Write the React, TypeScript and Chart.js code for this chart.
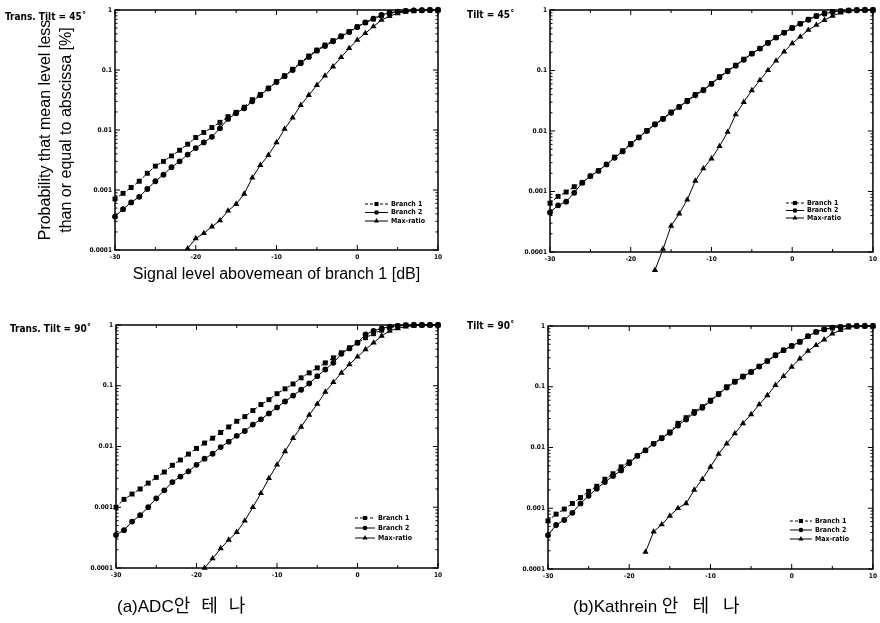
import React, { useEffect, useRef } from "react";
import { Chart, registerables } from "chart.js";
Chart.register(...registerables);

// ---- data ----
const dB = [-30, -29, -28, -27, -26, -25, -24, -23, -22, -21, -20, -19, -18, -17, -16, -15, -14, -13, -12, -11, -10, -9, -8, -7, -6, -5, -4, -3, -2, -1, 0, 1, 2, 3, 4, 5, 6, 7, 8, 9, 10];
const seriesNames = ["Branch 1", "Branch 2", "Max-ratio"];
const xTickValues = [-30, -20, -10, 0, 10];
const xTickLabels = ["-30", "-20", "-10", "0", "10"];
const yTickLabels = ["0.0001", "0.001", "0.01", "0.1", "1"];
const xTitle = "Signal level abovemean of branch 1 [dB]";
const yTitle = ["Probability that mean level less", "than or equal to abscissa [%]"];

// (a) ADC, Trans. Tilt = 45
const adc45Branch1 = [0.00071, 0.00088, 0.0011, 0.0014, 0.0019, 0.0025, 0.003, 0.0037, 0.0046, 0.0058, 0.0075, 0.0091, 0.011, 0.0134, 0.0167, 0.0197, 0.024, 0.032, 0.039, 0.05, 0.064, 0.08, 0.103, 0.134, 0.171, 0.215, 0.261, 0.308, 0.369, 0.436, 0.527, 0.615, 0.708, 0.805, 0.88, 0.926, 0.96, 0.975, 0.987, 0.995, 1];
const adc45Branch2 = [0.00036, 0.00048, 0.00062, 0.00077, 0.00104, 0.0014, 0.0018, 0.0024, 0.003, 0.0039, 0.005, 0.0062, 0.0077, 0.0107, 0.0153, 0.019, 0.023, 0.03, 0.038, 0.049, 0.063, 0.079, 0.1, 0.13, 0.165, 0.21, 0.25, 0.3, 0.36, 0.43, 0.52, 0.62, 0.72, 0.83, 0.9, 0.94, 0.97, 0.985, 0.99, 1, 1];
const adc45MaxRatio = [null, null, null, null, null, null, null, null, null, 0.000106, 0.000156, 0.00019, 0.000245, 0.00031, 0.00045, 0.00058, 0.00086, 0.0016, 0.0026, 0.0038, 0.0062, 0.0104, 0.016, 0.026, 0.038, 0.056, 0.08, 0.114, 0.163, 0.23, 0.316, 0.41, 0.53, 0.68, 0.79, 0.88, 0.94, 0.97, 0.99, 1, 1];

// (b) Kathrein, Tilt = 45
const kat45Branch1 = [0.00064, 0.00083, 0.00098, 0.0012, 0.0014, 0.0018, 0.0022, 0.0028, 0.0037, 0.0047, 0.0062, 0.0079, 0.0102, 0.013, 0.016, 0.0206, 0.025, 0.032, 0.04, 0.048, 0.061, 0.079, 0.099, 0.122, 0.154, 0.191, 0.232, 0.288, 0.352, 0.426, 0.51, 0.6, 0.7, 0.8, 0.88, 0.94, 0.96, 0.99, 1, 1, 1];
const kat45Branch2 = [0.00045, 0.00059, 0.00068, 0.00095, 0.0014, 0.0018, 0.0022, 0.0028, 0.0036, 0.0046, 0.006, 0.0078, 0.01, 0.0128, 0.0158, 0.02, 0.025, 0.031, 0.039, 0.047, 0.06, 0.077, 0.097, 0.12, 0.15, 0.19, 0.23, 0.285, 0.35, 0.42, 0.5, 0.59, 0.69, 0.79, 0.87, 0.93, 0.96, 0.98, 0.99, 1, 1];
const kat45MaxRatio = [null, null, null, null, null, null, null, null, null, null, null, null, null, 0.00005, 0.000112, 0.00027, 0.00043, 0.00073, 0.0015, 0.0024, 0.0035, 0.0056, 0.0096, 0.0187, 0.03, 0.047, 0.069, 0.101, 0.145, 0.204, 0.28, 0.361, 0.466, 0.564, 0.68, 0.8, 0.9, 0.96, 0.99, 1, 1];

// (a) ADC, Trans. Tilt = 90
const adc90Branch1 = [0.001, 0.00135, 0.00165, 0.002, 0.0025, 0.0031, 0.0038, 0.0049, 0.006, 0.0075, 0.0093, 0.0114, 0.0137, 0.017, 0.021, 0.026, 0.031, 0.039, 0.049, 0.059, 0.074, 0.089, 0.107, 0.135, 0.163, 0.197, 0.238, 0.288, 0.349, 0.422, 0.51, 0.617, 0.719, 0.82, 0.9, 0.96, 0.99, 1, 1, 1, 1];
const adc90Branch2 = [0.00035, 0.00042, 0.00058, 0.00074, 0.001, 0.0014, 0.0019, 0.0026, 0.0032, 0.0039, 0.005, 0.0063, 0.0076, 0.0098, 0.012, 0.015, 0.018, 0.023, 0.028, 0.035, 0.044, 0.055, 0.069, 0.086, 0.109, 0.144, 0.185, 0.238, 0.336, 0.411, 0.51, 0.7, 0.8, 0.88, 0.94, 0.97, 0.99, 1, 1, 1, 1];
const adc90MaxRatio = [null, null, null, null, null, null, null, null, null, null, null, 0.0001, 0.000143, 0.00021, 0.00029, 0.00039, 0.0006, 0.001, 0.0017, 0.003, 0.005, 0.0083, 0.0137, 0.021, 0.033, 0.05, 0.079, 0.114, 0.163, 0.224, 0.3, 0.396, 0.51, 0.66, 0.8, 0.88, 0.94, 0.97, 0.99, 1, 1];

// (b) Kathrein, Tilt = 90
const kat90Branch1 = [0.00062, 0.0008, 0.00097, 0.0012, 0.0015, 0.0019, 0.0023, 0.003, 0.0037, 0.0048, 0.0058, 0.0073, 0.009, 0.0116, 0.0144, 0.018, 0.025, 0.031, 0.039, 0.047, 0.06, 0.077, 0.1, 0.123, 0.149, 0.175, 0.217, 0.266, 0.33, 0.398, 0.469, 0.546, 0.676, 0.797, 0.88, 0.94, 0.96, 0.99, 1, 1, 1];
const kat90Branch2 = [0.00036, 0.00053, 0.00064, 0.00084, 0.0012, 0.0016, 0.0021, 0.0027, 0.0034, 0.0042, 0.0055, 0.0073, 0.009, 0.0115, 0.0142, 0.0175, 0.023, 0.029, 0.037, 0.045, 0.058, 0.075, 0.097, 0.12, 0.146, 0.175, 0.215, 0.265, 0.33, 0.4, 0.47, 0.55, 0.68, 0.8, 0.88, 0.94, 0.97, 0.99, 1, 1, 1];
const kat90MaxRatio = [null, null, null, null, null, null, null, null, null, null, null, null, 0.00019, 0.00041, 0.00054, 0.00075, 0.001, 0.0012, 0.002, 0.003, 0.0048, 0.0078, 0.0116, 0.017, 0.025, 0.035, 0.051, 0.072, 0.106, 0.149, 0.212, 0.29, 0.388, 0.481, 0.596, 0.748, 0.85, 0.94, 0.99, 1, 1];

const NARROW = '"Liberation Sans Narrow", "DejaVu Sans Condensed", "Liberation Sans", sans-serif';
const SANS = '"Liberation Sans", Arial, "Noto Sans CJK KR", sans-serif';

function isDecade(v: number) {
  const l = Math.log10(v);
  return Math.abs(l - Math.round(l)) < 1e-6;
}
function isIntMantissa(v: number) {
  const e = Math.floor(Math.log10(v) + 1e-9);
  const m = v / Math.pow(10, e);
  return Math.abs(m - Math.round(m)) < 1e-6;
}

function marker(ctx: CanvasRenderingContext2D, style: string, x: number, y: number, r: number) {
  ctx.beginPath();
  if (style === "rect") {
    const s = r * Math.SQRT1_2;
    ctx.rect(x - s, y - s, 2 * s, 2 * s);
  } else if (style === "triangle") {
    let rad = 0;
    ctx.moveTo(x + Math.sin(rad) * r, y - Math.cos(rad) * r);
    rad += (2 * Math.PI) / 3;
    ctx.lineTo(x + Math.sin(rad) * r, y - Math.cos(rad) * r);
    rad += (2 * Math.PI) / 3;
    ctx.lineTo(x + Math.sin(rad) * r, y - Math.cos(rad) * r);
    ctx.closePath();
  } else {
    ctx.arc(x, y, r, 0, Math.PI * 2);
  }
  ctx.fill();
}

const frameTicksPlugin = {
  id: "frameTicks",
  afterDatasetsDraw(chart: any) {
    // points lying outside the plot area are skipped by the library: draw them here
    const { ctx, chartArea: a } = chart;
    ctx.save();
    ctx.fillStyle = "#000";
    chart.data.datasets.forEach((ds: any, di: number) => {
      const meta = chart.getDatasetMeta(di);
      meta.data.forEach((el: any) => {
        if (el.skip) return;
        if (el.y > a.bottom + 2 || el.y < a.top - 2) marker(ctx, ds.pointStyle, el.x, el.y, ds.pointRadius);
      });
    });
    ctx.restore();
  },
  afterDraw(chart: any, _args: any, opts: any) {
    const { ctx, chartArea: a, scales } = chart;
    ctx.save();
    ctx.strokeStyle = "#000";
    ctx.lineWidth = 1.5;
    ctx.strokeRect(a.left, a.top, a.right - a.left, a.bottom - a.top);
    ctx.lineWidth = 1;
    const ys = scales.y;
    ys.ticks.forEach((t: any) => {
      if (!isIntMantissa(t.value)) return;
      const py = ys.getPixelForValue(t.value);
      const len = isDecade(t.value) ? 5 : 2.5;
      ctx.beginPath();
      ctx.moveTo(a.left, py); ctx.lineTo(a.left + len, py);
      ctx.moveTo(a.right, py); ctx.lineTo(a.right - len, py);
      ctx.stroke();
    });
    const xs = scales.x;
    const vals = xs.ticks.map((t: any) => t.value);
    vals.forEach((v: number, i: number) => {
      const px = xs.getPixelForValue(v);
      ctx.beginPath();
      ctx.moveTo(px, a.bottom); ctx.lineTo(px, a.bottom - 5);
      ctx.moveTo(px, a.top); ctx.lineTo(px, a.top + 5);
      if (i < vals.length - 1) {
        const mx = xs.getPixelForValue((v + vals[i + 1]) / 2);
        ctx.moveTo(mx, a.bottom); ctx.lineTo(mx, a.bottom - 3);
        ctx.moveTo(mx, a.top); ctx.lineTo(mx, a.top + 3);
      }
      ctx.stroke();
    });

    // legend, bottom-right inside the plot
    const lg = opts.legend;
    chart.data.datasets.forEach((ds: any, i: number) => {
      const y = a.bottom - lg.fromBottom + i * lg.spacing;
      const x0 = a.right - lg.sampleStart;
      const x1 = a.right - lg.sampleEnd;
      ctx.beginPath();
      ctx.setLineDash(ds.borderDash || []);
      ctx.lineWidth = 1;
      ctx.moveTo(x0, y); ctx.lineTo(x1, y);
      ctx.stroke();
      ctx.setLineDash([]);
      ctx.fillStyle = "#000";
      marker(ctx, ds.pointStyle, (x0 + x1) / 2, y, ds.pointStyle === "circle" ? 2.3 : 2.9);
      ctx.font = `bold 7px ${NARROW}`;
      ctx.textBaseline = "middle";
      ctx.textAlign = "left";
      ctx.fillText(ds.label, a.right - lg.textStart, y);
    });
    ctx.restore();
  },
};

type Box = { left: number; top: number; width: number; height: number };
type Area = { left: number; top: number; right: number; bottom: number };
type Legend = { sampleStart: number; sampleEnd: number; textStart: number; fromBottom: number; spacing: number };

function Panel(props: {
  b1: (number | null)[]; b2: (number | null)[]; mr: (number | null)[];
  box: Box; area: Area; titles: boolean; legend: Legend;
}) {
  const { b1, b2, mr, box, area, titles, legend } = props;
  const ref = useRef<HTMLCanvasElement>(null);
  useEffect(() => {
    const mk = (vals: (number | null)[]) => dB.map((x, i) => ({ x, y: vals[i] }));
    const tickFont = { family: NARROW, size: 6.5, weight: "bold" as const };
    const chart = new Chart(ref.current as HTMLCanvasElement, {
      type: "line",
      data: {
        datasets: [
          { label: seriesNames[0], data: mk(b1) as any, borderColor: "#000", backgroundColor: "#000", borderWidth: 1, borderDash: [3, 2], pointStyle: "rect", pointRadius: 3.5, pointBorderWidth: 0, clip: false as any, spanGaps: false },
          { label: seriesNames[1], data: mk(b2) as any, borderColor: "#000", backgroundColor: "#000", borderWidth: 1, pointStyle: "circle", pointRadius: 2.9, pointBorderWidth: 0, clip: false as any, spanGaps: false },
          { label: seriesNames[2], data: mk(mr) as any, borderColor: "#000", backgroundColor: "#000", borderWidth: 1, pointStyle: "triangle", pointRadius: 3.6, pointBorderWidth: 0, clip: false as any, spanGaps: false },
        ],
      },
      options: {
        animation: false,
        responsive: false,
        maintainAspectRatio: false,
        layout: { padding: { left: 0, top: area.top - box.top, right: box.left + box.width - area.right, bottom: 0 } },
        plugins: {
          legend: { display: false },
          tooltip: { enabled: false },
          frameTicks: { legend } as any,
        } as any,
        scales: {
          x: {
            type: "linear",
            min: -30,
            max: 10,
            grid: { display: false, drawTicks: false },
            border: { display: false },
            ticks: {
              stepSize: 10,
              autoSkip: false,
              maxRotation: 0,
              padding: 3,
              color: "#000",
              font: tickFont,
              callback: (v: any) => {
                const i = xTickValues.indexOf(Number(v));
                return i >= 0 ? xTickLabels[i] : "";
              },
            },
            title: titles
              ? { display: true, text: xTitle, color: "#000", font: { family: SANS, size: 16, lineHeight: 1.3 }, padding: { top: 0, bottom: 15 } }
              : { display: false },
            afterFit: (s: any) => { s.height = box.top + box.height - area.bottom; },
          },
          y: {
            type: "logarithmic",
            min: 0.0001,
            max: 1,
            grid: { display: false, drawTicks: false },
            border: { display: false },
            ticks: {
              autoSkip: false,
              padding: 3,
              color: "#000",
              font: tickFont,
              callback: (v: any) => {
                const n = Number(v);
                if (!isDecade(n)) return "";
                return yTickLabels[Math.round(Math.log10(n)) + 4] ?? "";
              },
            },
            title: titles
              ? { display: true, text: yTitle, color: "#000", font: { family: SANS, size: 16, lineHeight: 1.3 }, padding: { top: 35.5, bottom: 0 } }
              : { display: false },
            afterFit: (s: any) => { s.width = area.left - box.left; },
          },
        },
      } as any,
      plugins: [frameTicksPlugin as any],
    });
    return () => chart.destroy();
  }, []);
  return (
    <canvas
      ref={ref}
      width={box.width}
      height={box.height}
      style={{ position: "absolute", left: box.left, top: box.top, width: box.width, height: box.height }}
    />
  );
}

const labelStyle: React.CSSProperties = {
  position: "absolute",
  font: `bold 10px ${NARROW}`,
  color: "#000",
  whiteSpace: "nowrap",
  lineHeight: "12px",
};
const captionStyle: React.CSSProperties = {
  position: "absolute",
  fontFamily: SANS,
  fontSize: 17,
  color: "#000",
  whiteSpace: "nowrap",
  lineHeight: "20px",
};

export default function App() {
  return (
    <div style={{ position: "absolute", left: 0, top: 0, width: 880, height: 623, background: "#fff", overflow: "hidden" }}>
      <Panel b1={adc45Branch1} b2={adc45Branch2} mr={adc45MaxRatio} titles
        box={{ left: 0, top: 0, width: 450, height: 300 }}
        area={{ left: 115, top: 10, right: 438, bottom: 250 }}
        legend={{ sampleStart: 73, sampleEnd: 50, textStart: 47, fromBottom: 46, spacing: 8.5 }} />
      <Panel b1={kat45Branch1} b2={kat45Branch2} mr={kat45MaxRatio} titles={false}
        box={{ left: 445, top: 0, width: 435, height: 300 }}
        area={{ left: 550, top: 10, right: 874, bottom: 252 }}
        legend={{ sampleStart: 87, sampleEnd: 69, textStart: 66, fromBottom: 49, spacing: 7.5 }} />
      <Panel b1={adc90Branch1} b2={adc90Branch2} mr={adc90MaxRatio} titles={false}
        box={{ left: 0, top: 300, width: 450, height: 323 }}
        area={{ left: 116, top: 325, right: 438, bottom: 568 }}
        legend={{ sampleStart: 83, sampleEnd: 63, textStart: 60, fromBottom: 50, spacing: 10 }} />
      <Panel b1={kat90Branch1} b2={kat90Branch2} mr={kat90MaxRatio} titles={false}
        box={{ left: 445, top: 300, width: 435, height: 323 }}
        area={{ left: 548, top: 326, right: 873, bottom: 569 }}
        legend={{ sampleStart: 83, sampleEnd: 61, textStart: 58, fromBottom: 48, spacing: 9 }} />

      <div style={{ ...labelStyle, left: 5, top: 11 }}>Trans. Tilt = 45˚</div>
      <div style={{ ...labelStyle, left: 467, top: 9 }}>Tilt = 45˚</div>
      <div style={{ ...labelStyle, left: 10, top: 323 }}>Trans. Tilt = 90˚</div>
      <div style={{ ...labelStyle, left: 467, top: 320 }}>Tilt = 90˚</div>

      <div style={{ ...captionStyle, left: 117, top: 596 }}>
        (a)ADC<span style={{ fontSize: 18, letterSpacing: 11 }}>안테나</span>
      </div>
      <div style={{ ...captionStyle, left: 573, top: 596 }}>
        (b)Kathrein <span style={{ fontSize: 18, letterSpacing: 14 }}>안테나</span>
      </div>
    </div>
  );
}
